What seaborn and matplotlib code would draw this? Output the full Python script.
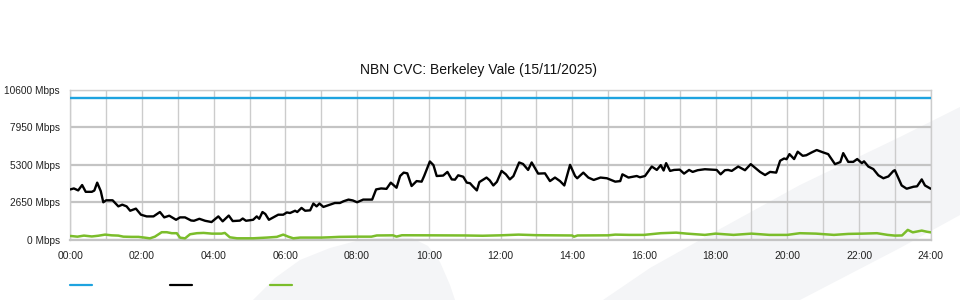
import matplotlib
matplotlib.use("Agg")
import matplotlib.pyplot as plt
from matplotlib.patches import Polygon
from matplotlib.lines import Line2D
import seaborn as sns
import pandas as pd

# ---------------- data ----------------
capacity_hours = [0.0, 24.0]
capacity_mbps = [10000, 10000]

download_hours = [0.00, 0.10, 0.22, 0.33, 0.43, 0.60, 0.67, 0.75, 0.85, 0.92, 1.00, 1.18, 1.34, 1.45,
                  1.57, 1.67, 1.83, 1.97, 2.13, 2.32, 2.50, 2.62, 2.76, 2.95, 3.06, 3.20, 3.37, 3.45,
                  3.60, 3.76, 3.94, 4.13, 4.25, 4.42, 4.53, 4.73, 4.81, 4.90, 5.10, 5.20, 5.27, 5.36,
                  5.44, 5.54, 5.66, 5.80, 5.94, 6.04, 6.13, 6.27, 6.33, 6.45, 6.55, 6.69, 6.78, 6.87,
                  6.95, 7.06, 7.24, 7.38, 7.52, 7.62, 7.76, 7.88, 8.00, 8.17, 8.42, 8.53, 8.67, 8.82,
                  8.94, 9.10, 9.20, 9.30, 9.40, 9.52, 9.66, 9.80, 9.87, 10.03, 10.13, 10.22, 10.40,
                  10.52, 10.64, 10.73, 10.82, 10.96, 11.06, 11.15, 11.22, 11.34, 11.41, 11.53, 11.61,
                  11.70, 11.80, 11.90, 12.03, 12.15, 12.26, 12.36, 12.52, 12.63, 12.77, 12.87, 13.05,
                  13.24, 13.38, 13.52, 13.66, 13.78, 13.94, 14.08, 14.14, 14.31, 14.45, 14.60, 14.79,
                  14.97, 15.20, 15.34, 15.40, 15.57, 15.80, 15.89, 16.03, 16.22, 16.36, 16.47, 16.55,
                  16.62, 16.73, 16.84, 17.00, 17.12, 17.26, 17.36, 17.50, 17.70, 18.03, 18.14, 18.26,
                  18.35, 18.45, 18.63, 18.82, 18.98, 19.10, 19.24, 19.38, 19.52, 19.69, 19.80, 19.91,
                  19.98, 20.06, 20.19, 20.29, 20.43, 20.53, 20.68, 20.82, 21.00, 21.14, 21.33, 21.48,
                  21.56, 21.70, 21.84, 21.95, 22.08, 22.14, 22.26, 22.40, 22.54, 22.68, 22.82, 22.96,
                  23.00, 23.19, 23.33, 23.52, 23.62, 23.75, 23.84, 24.00]
download_mbps = [3560, 3630, 3490, 3870, 3390, 3390, 3480, 4040, 3440, 2650, 2790, 2790, 2360, 2480,
                 2360, 2050, 2200, 1770, 1650, 1650, 1960, 1580, 1700, 1410, 1580, 1580, 1360, 1340,
                 1480, 1340, 1250, 1650, 1300, 1710, 1320, 1350, 1500, 1340, 1410, 1650, 1480, 1960,
                 1820, 1410, 1580, 1770, 1770, 1930, 1890, 2050, 1960, 2250, 2050, 2080, 2560, 2360,
                 2560, 2320, 2480, 2600, 2600, 2720, 2840, 2780, 2650, 2840, 2840, 3560, 3630, 3600,
                 4040, 3680, 4510, 4750, 4700, 3800, 4150, 4110, 4510, 5540, 5280, 4510, 4540,
                 4800, 4270, 4250, 4560, 4460, 4040, 4000, 3800, 3490, 4080, 4270, 4400,
                 4200, 3840, 4100, 4870, 4630, 4270, 4500, 5470, 5360, 4940, 5470, 4680,
                 4700, 4150, 4400, 4150, 3840, 5300, 4510, 4350, 4750, 4400, 4230, 4400,
                 4350, 4110, 4150, 4630, 4400, 4510, 4420, 4510, 5180, 4940, 5280, 4900,
                 5420, 4870, 4940, 4960, 4680, 4940, 4800, 4920, 4990, 4940, 4630, 4920,
                 4940, 4870, 5180, 4920, 5350, 5100, 4800, 4580, 4800, 4750, 5590, 5750,
                 5700, 6060, 5710, 6230, 5940, 5980, 6180, 6350, 6180, 6060, 5350, 5500,
                 6130, 5510, 5510, 5710, 5420, 5550, 5180, 5000, 4560, 4350, 4480, 4870,
                 4920, 3840, 3610, 3750, 3780, 4270, 3840, 3610]

upload_hours = [0.00, 0.20, 0.38, 0.60, 0.78, 0.97, 1.15, 1.34, 1.48, 1.71, 1.90, 2.08, 2.22, 2.36,
                2.55, 2.69, 2.83, 2.97, 3.06, 3.20, 3.34, 3.53, 3.72, 3.95, 4.22, 4.31, 4.45, 4.65,
                5.10, 5.48, 5.76, 5.94, 6.08, 6.22, 6.41, 7.00, 7.24, 7.50, 8.00, 8.40, 8.55, 9.00,
                9.10, 9.25, 10.0, 11.0, 11.5, 12.0, 12.5, 13.0, 14.0, 14.05, 14.15, 15.0, 15.2,
                15.6, 16.0, 16.47, 16.9, 17.2, 17.7, 18.0, 18.5, 19.0, 19.5, 20.0, 20.35, 20.8,
                21.3, 21.7, 22.1, 22.5, 22.8, 23.0, 23.2, 23.36, 23.5, 23.6, 23.75, 23.9, 24.0]
upload_mbps = [265, 215, 290, 230, 280, 360, 310, 290, 215, 200, 200, 145, 95, 215,
               530, 530, 460, 460, 145, 95, 385, 460, 480, 430, 430, 480, 170, 100,
               100, 150, 200, 360, 215, 100, 150, 150, 170, 200, 215, 215, 300, 310,
               220, 315, 310, 300, 280, 310, 360, 320, 300, 215, 300, 310, 360,
               340, 340, 460, 500, 430, 340, 430, 340, 430, 340, 340, 460, 430,
               340, 410, 430, 460, 340, 290, 300, 695, 520, 570, 645, 560, 520]

title = "NBN CVC: Berkeley Vale (15/11/2025)"
y_ticks = [0, 2650, 5300, 7950, 10600]
y_tick_labels = ["0 Mbps", "2650 Mbps", "5300 Mbps", "7950 Mbps", "10600 Mbps"]
x_ticks = list(range(0, 25, 2))
x_tick_labels = ["%02d:00" % h for h in x_ticks]

series_colors = {"capacity": "#1ea3df", "download": "#000000", "upload": "#7bbd2b"}

# ---------------- style ----------------
sns.set_style("white")
plt.rcParams["font.family"] = ["Liberation Sans", "DejaVu Sans"]

W, H = 960, 300
fig = plt.figure(figsize=(W / 100, H / 100), dpi=100)
fig.patch.set_facecolor("white")

def fx(px):
    return px / W

def fy(py):
    return 1 - py / H

# watermark shapes (background decoration)
wm_color = "#f4f5f7"
blob = [(253, 300), (275, 278), (300, 260), (330, 248), (360, 240), (390, 237), (412, 238),
        (428, 246), (440, 262), (450, 285), (455, 300)]
band = [(603, 300), (650, 268), (700, 240), (800, 185), (900, 137), (960, 107), (960, 215),
        (900, 248), (800, 300)]
for shape in (blob, band):
    fig.patches.append(Polygon([(fx(x), fy(y)) for x, y in shape], closed=True,
                               transform=fig.transFigure, facecolor=wm_color,
                               edgecolor="none", zorder=-10))

left, right, top, bottom = 70.3, 930.7, 90.0, 239.7
ax = fig.add_axes([fx(left), fy(bottom), fx(right - left), (bottom - top) / H])
ax.patch.set_alpha(0)

df_cap = pd.DataFrame({"hour": capacity_hours, "mbps": capacity_mbps})
df_dn = pd.DataFrame({"hour": download_hours, "mbps": download_mbps})
df_up = pd.DataFrame({"hour": upload_hours, "mbps": upload_mbps})

sns.lineplot(data=df_cap, x="hour", y="mbps", ax=ax, color=series_colors["capacity"],
             lw=1.7, zorder=3)
sns.lineplot(data=df_up, x="hour", y="mbps", ax=ax, color=series_colors["upload"],
             lw=1.8, zorder=4)
sns.lineplot(data=df_dn, x="hour", y="mbps", ax=ax, color=series_colors["download"],
             lw=1.7, zorder=5)

ax.set_xlim(0, 24)
ax.set_ylim(0, 10600)
ax.set_xlabel("")
ax.set_ylabel("")

ax.set_xticks(x_ticks)
ax.set_xticklabels(x_tick_labels, fontsize=7.5, color="#222222")
ax.set_xticks(range(0, 25), minor=True)
ax.set_yticks(y_ticks)
ax.set_yticklabels(y_tick_labels, fontsize=7.3, color="#222222")

ax.tick_params(axis="x", which="major", length=6.5, width=1, color="#c8c8c8", pad=1.5, direction="out")
ax.tick_params(axis="x", which="minor", length=0)
ax.tick_params(axis="y", length=0, pad=7.5)

ax.grid(True, axis="x", which="both", color="#cccccc", lw=1.0, zorder=0)
ax.grid(True, axis="y", which="major", color="#c4c4c4", lw=1.6, zorder=0)
ax.set_axisbelow(True)

for side, sp in ax.spines.items():
    sp.set_visible(True)
    sp.set_color("#cccccc")
    sp.set_linewidth(1.0)
ax.spines["bottom"].set_color("#c4c4c4")
ax.spines["bottom"].set_linewidth(1.6)

fig.text(fx(479), fy(70), title, ha="center", va="center", fontsize=10, color="#111111")

# legend swatches (no labels shown in reference)
for color, x0 in zip([series_colors["capacity"], series_colors["download"], series_colors["upload"]],
                     [69.5, 169.5, 269.5]):
    fig.add_artist(Line2D([fx(x0), fx(x0 + 22)], [fy(285), fy(285)], color=color, lw=1.6,
                          transform=fig.transFigure))

fig.savefig("out.png", dpi=100, facecolor="white")
